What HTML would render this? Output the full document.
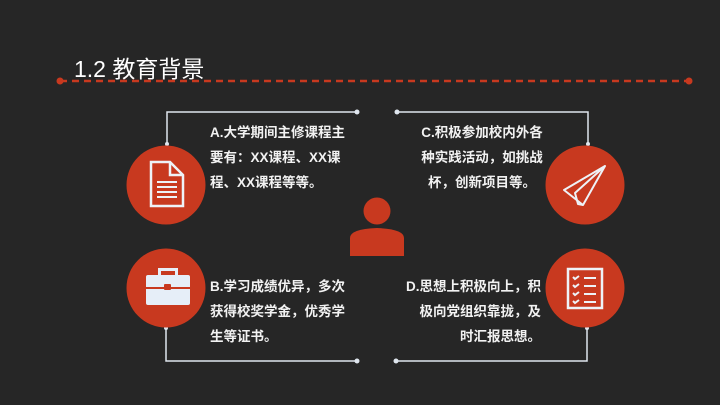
<!DOCTYPE html>
<html><head><meta charset="utf-8"><style>
body{margin:0;background:#262626;}
.w{position:relative;width:720px;height:405px;overflow:hidden;background:#262626;font-family:"Liberation Sans","Noto Sans CJK SC",sans-serif;color:#f2f2f2;}
.t{position:absolute;font-size:13.5px;line-height:25px;font-weight:bold;white-space:nowrap;}
</style></head><body><div class="w">
<div style="position:absolute;left:74px;top:50px;font-size:23px;color:#fff;">1.2 教育背景</div>
<svg width="720" height="405" style="position:absolute;left:0;top:0">
<line x1="60" y1="81" x2="689" y2="81" stroke="#c8391f" stroke-width="2.5" stroke-dasharray="7,5"/>
<circle cx="60" cy="81" r="3.5" fill="#c8391f"/><circle cx="689" cy="81" r="3.5" fill="#c8391f"/>
<g stroke="#dfe6ee" stroke-width="1.5" fill="none">
<polyline points="167,144 167,112 357,112"/>
<polyline points="397,112 588,112 588,144"/>
<polyline points="166,328 166,361 357,361"/>
<polyline points="396,361 587,361 587,328"/>
</g>
<g fill="#dfe6ee">
<circle cx="357" cy="112" r="2.5"/><circle cx="397" cy="112" r="2.5"/>
<circle cx="357" cy="361" r="2.5"/><circle cx="396" cy="361" r="2.5"/>
<circle cx="167" cy="144" r="2"/><circle cx="588" cy="144" r="2"/>
<circle cx="166" cy="328" r="2"/><circle cx="587" cy="328" r="2"/>
</g>
<g fill="#c8391f">
<circle cx="166" cy="185" r="39.5"/><circle cx="585" cy="185" r="39.5"/>
<circle cx="166" cy="288" r="39.5"/><circle cx="585" cy="288" r="39.5"/>
<circle cx="377" cy="211" r="13.5"/>
<path d="M350,256 V238 Q350,229 377,228 Q404,229 404,238 V256 Z"/>
</g>
<!-- document -->
<g fill="none" stroke="#eef2f7" stroke-width="2.5">
<path d="M151,162 H170 L183,175 V206 H151 Z"/><path d="M170,162 V175 H183"/>
</g>
<g stroke="#eef2f7" stroke-width="2"><line x1="157" y1="182" x2="177" y2="182"/><line x1="157" y1="187" x2="177" y2="187"/><line x1="157" y1="192" x2="177" y2="192"/><line x1="157" y1="197" x2="177" y2="197"/></g>
<!-- briefcase -->
<g fill="#e6eef8">
<rect x="146" y="275" width="44" height="30" rx="2"/>
<path d="M158,275 v-7 h20 v7 h-3 v-4 h-14 v4 z"/>
</g>
<rect x="146" y="287" width="44" height="2" fill="#c8391f"/>
<rect x="164" y="284" width="7" height="6" rx="1" fill="#c8391f"/>
<!-- paper plane -->
<g fill="none" stroke="#eef2f7" stroke-width="2" stroke-linejoin="round">
<path d="M564,190 L605,166 L583,205 Z"/><path d="M605,166 L575,193 L578,204 L583,205"/>
</g>
<!-- checklist -->
<rect x="568" y="269" width="34" height="39" fill="none" stroke="#eef2f7" stroke-width="2.5"/>
<g stroke="#eef2f7" stroke-width="2" fill="none">
<path d="M573,277 l2,2 l4,-3"/><line x1="584" y1="278" x2="596" y2="278"/>
<path d="M573,285 l2,2 l4,-3"/><line x1="584" y1="286" x2="596" y2="286"/>
<path d="M573,293 l2,2 l4,-3"/><line x1="584" y1="294" x2="596" y2="294"/>
<path d="M573,301 l2,2 l4,-3"/><line x1="584" y1="302" x2="596" y2="302"/>
</g>
</svg>
<div class="t" style="left:210px;top:120px;">A.大学期间主修课程主<br>要有：XX课程、XX课<br>程、XX课程等等。</div>
<div class="t" style="left:410px;top:120px;width:144px;text-align:center;">C.积极参加校内外各<br>种实践活动，如挑战<br>杯，创新项目等。</div>
<div class="t" style="left:210px;top:274px;">B.学习成绩优异，多次<br>获得校奖学金，优秀学<br>生等证书。</div>
<div class="t" style="left:380px;top:274px;width:161px;text-align:right;">D.思想上积极向上，积<br>极向党组织靠拢，及<br>时汇报思想。</div>
</div></body></html>
